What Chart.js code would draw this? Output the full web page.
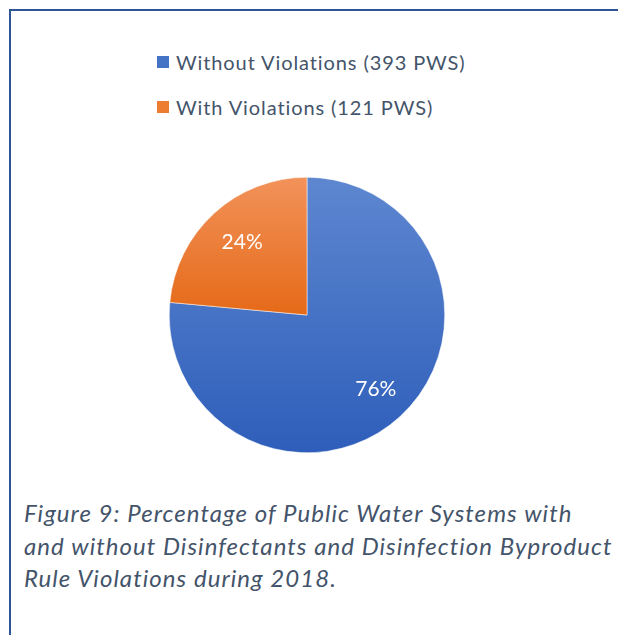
<!DOCTYPE html>
<html>
<head>
<meta charset="utf-8">
<script src="https://cdn.jsdelivr.net/npm/chart.js@4"></script>
<style>
  body { margin: 0; background: #fff; width: 618px; height: 635px; overflow: hidden; position: relative; font-family: Lato, "Open Sans", sans-serif; }
  #frame { position: absolute; left: 9px; top: 9px; width: 700px; height: 700px; border-left: 2px solid #2F5597; border-top: 2px solid #2F5597; }
  #legend { position: absolute; left: 157px; top: 48px; }
  .item { display: flex; align-items: center; height: 28px; margin-bottom: 17px; color: #44546A; font-size: 20px; letter-spacing: 0.9px; }
  .swatch { width: 12px; height: 12px; margin-right: 7px; }
  #pieBox { position: absolute; left: 0; top: 177px; width: 614px; height: 276px; }
  #caption { position: absolute; left: 24px; top: 497px; color: #44546A; font-style: italic; font-size: 24px; letter-spacing: 1.05px; line-height: 32.5px; white-space: nowrap; }
</style>
</head>
<body>
<div id="frame"></div>
<div id="legend"></div>
<div id="pieBox"><canvas id="pieChart"></canvas></div>
<div id="caption"></div>
<script>
// values
const categories = ['Without Violations (393 PWS)', 'With Violations (121 PWS)'];
const counts = [393, 121];
const percentLabels = ['76%', '24%'];
const swatchColors = ['#4472C4', '#ED7D31'];
const gradientStops = [['#5E87D0', '#2E5EBA'], ['#F2925A', '#E56A18']];
const captionLines = [
    'Figure 9: Percentage of Public Water Systems with',
    'and without Disinfectants and Disinfection Byproduct',
    'Rule Violations during 2018.'
];

// caption text
document.getElementById('caption').innerHTML = captionLines.join('<br>');

// simple legend, left aligned like the original
const legendDiv = document.getElementById('legend');
categories.forEach((cat, i) => {
    const row = document.createElement('div');
    row.className = 'item';
    row.innerHTML = '<span class="swatch" style="background:' + swatchColors[i] + '"></span>' + cat;
    legendDiv.appendChild(row);
});

function sliceFill(context) {
    const chart = context.chart;
    const area = chart.chartArea;
    if (!area) return swatchColors[context.dataIndex];
    const i = context.dataIndex;
    const cy = (area.top + area.bottom) / 2;
    // blue spans whole pie, orange only upper half
    const bottom = i === 0 ? area.bottom : cy;
    const g = chart.ctx.createLinearGradient(0, area.top, 0, bottom);
    g.addColorStop(0, gradientStops[i][0]);
    g.addColorStop(1, gradientStops[i][1]);
    return g;
}

// draw percentage labels inside slices
const pctPlugin = {
    id: 'pctLabels',
    afterDatasetsDraw(chart) {
        const ctx = chart.ctx;
        const meta = chart.getDatasetMeta(0);
        ctx.save();
        ctx.fillStyle = '#ffffff';
        ctx.font = '21px Lato, "Open Sans", sans-serif';
        ctx.textAlign = 'center';
        ctx.textBaseline = 'middle';
        meta.data.forEach((arc, i) => {
            const p = arc.getProps(['x', 'y', 'startAngle', 'endAngle', 'outerRadius'], true);
            const mid = (p.startAngle + p.endAngle) / 2;
            const r = p.outerRadius * 0.72;
            ctx.fillText(percentLabels[i], p.x + Math.cos(mid) * r + 2, p.y + Math.sin(mid) * r + 1);
        });
        ctx.restore();
    }
};

const ctx = document.getElementById('pieChart').getContext('2d');
new Chart(ctx, {
    type: 'pie',
    data: {
        labels: categories,
        datasets: [{
            data: counts,
            backgroundColor: sliceFill,
            borderColor: '#ffffff',
            borderWidth: 0.5
        }]
    },
    options: {
        responsive: true,
        maintainAspectRatio: false,
        animation: false,
        plugins: {
            legend: { display: false },
            tooltip: { enabled: false }
        }
    },
    plugins: [pctPlugin]
});
</script>
</body>
</html>
